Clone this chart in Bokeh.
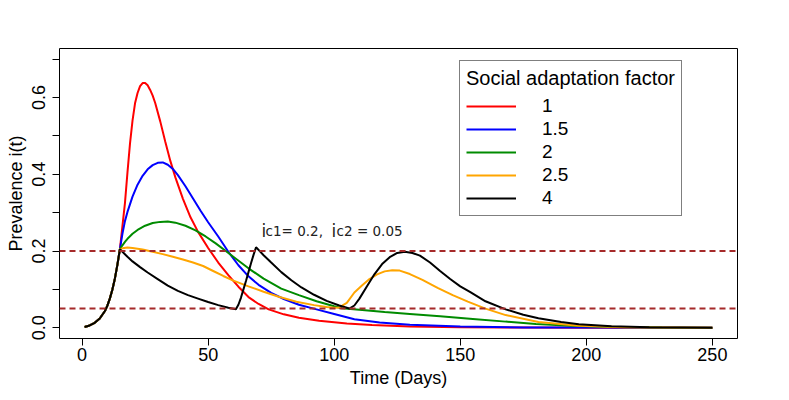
import math
from bokeh.plotting import figure
from bokeh.models import Range1d, FixedTicker, PrintfTickFormatter, Span, Label
from bokeh.embed import file_html
from bokeh.resources import INLINE

# ---------------- data ----------------
# common growth phase before the first threshold is reached
days_start = [1, 3, 5, 7, 9, 10, 11, 12, 13, 14, 15]
prev_start = [0.002, 0.006, 0.013, 0.024, 0.043, 0.057, 0.076, 0.099, 0.128, 0.164, 0.205]

# social adaptation factor 1
days_f1 = [16, 17, 18, 19, 20, 21, 22, 23, 24, 25, 26, 27, 28, 29, 31, 33, 35, 37, 40, 43,
           46, 50, 54, 58, 62, 66, 70, 74, 80, 86, 94, 105, 115, 130, 150, 175, 200, 250]
prev_f1 = [0.265, 0.325, 0.405, 0.48, 0.54, 0.585, 0.612, 0.630, 0.638, 0.638, 0.632, 0.620,
           0.605, 0.586, 0.538, 0.485, 0.435, 0.392, 0.336, 0.288, 0.250, 0.208, 0.170, 0.137,
           0.107, 0.080, 0.062, 0.048, 0.035, 0.026, 0.018, 0.011, 0.007, 0.003, 0.0012,
           0.0005, 0.0002, 0.0]

# social adaptation factor 1.5
days_f15 = [16, 17, 18, 20, 22, 24, 26, 28, 30, 32, 34, 36, 38, 41, 44, 47, 50, 54, 58, 62,
            66, 70, 75, 80, 86, 93, 100, 108, 118, 130, 150, 175, 200, 250]
prev_f15 = [0.245, 0.278, 0.302, 0.342, 0.373, 0.396, 0.413, 0.424, 0.430, 0.431, 0.425,
            0.414, 0.398, 0.369, 0.337, 0.305, 0.275, 0.238, 0.198, 0.163, 0.134, 0.112,
            0.091, 0.075, 0.060, 0.048, 0.036, 0.022, 0.014, 0.008, 0.003, 0.001, 0.0004, 0.0]

# social adaptation factor 2
days_f2 = [16, 17, 18, 20, 22, 25, 28, 31, 34, 37, 41, 45, 49, 53, 57, 61, 66, 72, 79, 86,
           93, 100, 103, 110, 120, 130, 142, 155, 168, 180, 194, 210, 230, 250]
prev_f2 = [0.215, 0.224, 0.232, 0.245, 0.255, 0.266, 0.273, 0.276, 0.277, 0.274, 0.266,
           0.254, 0.238, 0.220, 0.200, 0.180, 0.155, 0.128, 0.102, 0.085, 0.069, 0.056,
           0.051, 0.047, 0.041, 0.036, 0.030, 0.023, 0.016, 0.010, 0.005, 0.002, 0.0008, 0.0]

# social adaptation factor 2.5
days_f25 = [16, 18, 20, 24, 28, 32, 36, 40, 44, 48, 52, 56, 60, 66, 72, 78, 85, 92, 97, 100,
            102, 105, 108, 111, 114, 117, 120, 123, 126, 130, 135, 141, 147, 153, 160, 168,
            181, 197, 215, 250]
prev_f25 = [0.207, 0.209, 0.208, 0.204, 0.198, 0.192, 0.185, 0.178, 0.170, 0.161, 0.148,
            0.135, 0.123, 0.108, 0.094, 0.081, 0.068, 0.059, 0.054, 0.052, 0.053, 0.065,
            0.092, 0.110, 0.127, 0.139, 0.147, 0.150, 0.149, 0.140, 0.125, 0.104, 0.085,
            0.068, 0.050, 0.033, 0.015, 0.005, 0.0015, 0.0]

# social adaptation factor 4
days_f4 = [16, 18, 20, 23, 26, 30, 34, 38, 42, 46, 50, 54, 58, 61, 62, 63, 64, 65, 66, 67,
           68, 69, 70, 72, 75, 79, 83, 87, 92, 97, 102, 106, 108, 110, 113, 116, 119, 122,
           125, 128, 131, 134, 138, 142, 146, 150, 154, 160, 168, 175, 181, 190, 197, 210,
           225, 250]
prev_f4 = [0.198, 0.185, 0.173, 0.158, 0.144, 0.127, 0.110, 0.096, 0.085, 0.076, 0.067,
           0.059, 0.052, 0.048, 0.060, 0.078, 0.100, 0.122, 0.145, 0.168, 0.190, 0.210,
           0.203, 0.189, 0.170, 0.145, 0.124, 0.105, 0.086, 0.070, 0.058, 0.050, 0.058,
           0.076, 0.108, 0.140, 0.166, 0.184, 0.195, 0.198, 0.195, 0.188, 0.170, 0.148,
           0.127, 0.108, 0.093, 0.069, 0.048, 0.034, 0.025, 0.015, 0.009, 0.004, 0.0015, 0.0]

factor_labels = ["1", "1.5", "2", "2.5", "4"]
series_days = [days_f1, days_f15, days_f2, days_f25, days_f4]
series_prev = [prev_f1, prev_f15, prev_f2, prev_f25, prev_f4]
series_colors = ["#FF0000", "#0000FF", "#008B00", "#FFA500", "#000000"]

ic1 = 0.2
ic2 = 0.05

x_ticks = [0, 50, 100, 150, 200, 250]
y_ticks = [0.0, 0.2, 0.4, 0.6]
y_minor_ticks = [0.1, 0.3, 0.5, 0.7]

FONT = "Liberation Sans"

# ---------------- figure ----------------
p = figure(width=779, height=391,
           x_range=Range1d(-8.96, 259.96), y_range=Range1d(-0.028, 0.728),
           output_backend="svg", toolbar_location=None,
           min_border_left=59, min_border_right=42, min_border_top=48, min_border_bottom=53)
p.background_fill_color = "white"
p.border_fill_color = "white"
p.outline_line_color = "black"
p.outline_line_width = 1
p.xgrid.visible = False
p.ygrid.visible = False

for ax in (p.xaxis[0], p.yaxis[0]):
    ax.axis_line_color = None
    ax.major_tick_line_color = "black"
    ax.major_tick_out = 7
    ax.major_tick_in = 0
    ax.major_label_text_font = FONT
    ax.major_label_text_font_size = "18px"
    ax.major_label_text_color = "black"
    ax.axis_label_text_font = FONT
    ax.axis_label_text_font_size = "18px"
    ax.axis_label_text_font_style = "normal"
    ax.axis_label_text_color = "black"

p.xaxis.ticker = FixedTicker(ticks=x_ticks)
p.xaxis.minor_tick_line_color = None
p.xaxis.axis_label = "Time (Days)"
p.xaxis.major_label_standoff = 2
p.xaxis.axis_label_standoff = 4

p.yaxis.ticker = FixedTicker(ticks=y_ticks, minor_ticks=y_minor_ticks)
p.yaxis.formatter = PrintfTickFormatter(format="%.1f")
p.yaxis.minor_tick_line_color = "black"
p.yaxis.minor_tick_out = 7
p.yaxis.minor_tick_in = 0
p.yaxis.major_label_orientation = "parallel"
p.yaxis.axis_label = "Prevalence i(t)"
p.yaxis.major_label_standoff = 7
p.yaxis.axis_label_standoff = 4

# threshold lines
for level in (ic1, ic2):
    p.add_layout(Span(location=level, dimension="width", line_color="#A52A2A",
                      line_dash="6 4", line_width=2))

# curves
for lab, d, v, c in zip(factor_labels, series_days, series_prev, series_colors):
    p.line(days_start + d, prev_start + v, line_color=c, line_width=2, legend_label=lab)

# annotation
ann_x, ann_y = 71.2, 0.2535
pieces = [("i", 0, "17px"), ("c1= 0.2,", 4, "13.5px"), ("i", 70, "17px"), ("c2 = 0.05", 75, "13.5px")]
for txt, off, size in pieces:
    p.add_layout(Label(x=ann_x, y=ann_y, text=txt, x_offset=off, text_font="DejaVu Sans",
                       text_font_size=size, text_color="#222222", text_baseline="alphabetic"))

# legend
lg = p.legend[0]
lg.title = "Social adaptation factor"
lg.title_text_font = FONT
lg.title_text_font_size = "20px"
lg.title_text_font_style = "normal"
lg.title_text_color = "black"
lg.title_standoff = 5
lg.label_text_font = FONT
lg.label_text_font_size = "19px"
lg.label_text_color = "black"
lg.glyph_width = 50
lg.glyph_height = 22
lg.label_height = 22
lg.label_standoff = 26
lg.spacing = 1
lg.padding = 6
lg.margin = 0
lg.border_line_color = "black"
lg.border_line_width = 1
lg.background_fill_alpha = 1
lg.location = (400, 122)

open("out.html", "w").write(file_html(p, INLINE))
